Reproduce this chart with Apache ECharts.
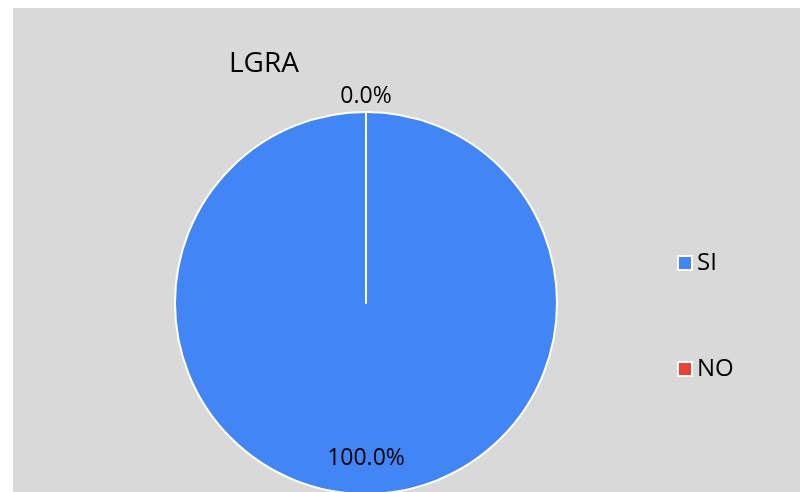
<!DOCTYPE html>
<html>
<head>
<meta charset="utf-8">
<script src="https://cdn.jsdelivr.net/npm/echarts@6/dist/echarts.min.js"></script>
<style>
  html, body { margin: 0; padding: 0; background: #fff; }
  #main { position: absolute; left: 13px; top: 8px; width: 787px; height: 484px; }
</style>
</head>
<body>
<div id="main"></div>
<script>
// datos
var categories = ['SI', 'NO'];
var values = [1, 0];
var colors = ['#4285f4', '#ea4335'];

var chart = echarts.init(document.getElementById('main'));
var font = '"Open Sans", sans-serif';

var seriesData = categories.map(function (c, i) {
  return { name: c, value: values[i], itemStyle: { color: colors[i] } };
});

var option = {
  backgroundColor: '#d9d9d9',
  title: {
    text: 'LGRA',
    left: 211,
    top: 37,
    textStyle: { fontFamily: font, fontSize: 28, fontWeight: 'normal', color: '#000' }
  },
  legend: {
    orient: 'vertical',
    left: 659,
    top: 237,
    icon: 'rect',
    itemWidth: 14,
    itemHeight: 14,
    itemGap: 80,
    itemStyle: { borderColor: '#fff', borderWidth: 2 },
    textStyle: { fontFamily: font, fontSize: 24, color: '#000', lineHeight: 26 },
    data: categories
  },
  series: [{
    type: 'pie',
    center: [353, 295],
    radius: 191,
    startAngle: 90,
    clockwise: true,
    avoidLabelOverlap: false,
    silent: true,
    itemStyle: { borderColor: '#fff', borderWidth: 2 },
    label: {
      show: true,
      position: 'inside',
      fontFamily: font,
      fontSize: 23,
      color: '#000',
      // desplazar etiquetas: SI abajo, NO arriba del circulo
      formatter: function (p) {
        var t = p.percent.toFixed(1) + '%';
        return p.dataIndex === 0 ? '{sp1|}\n{t|' + t + '}' : '{t|' + t + '}\n{sp2|}';
      },
      rich: {
        t: { fontFamily: font, fontSize: 23, color: '#000', lineHeight: 24 },
        sp1: { height: 113, lineHeight: 113 },
        sp2: { height: 217, lineHeight: 217 }
      }
    },
    labelLine: { show: false },
    data: seriesData
  }]
};

chart.setOption(option);
</script>
</body>
</html>
